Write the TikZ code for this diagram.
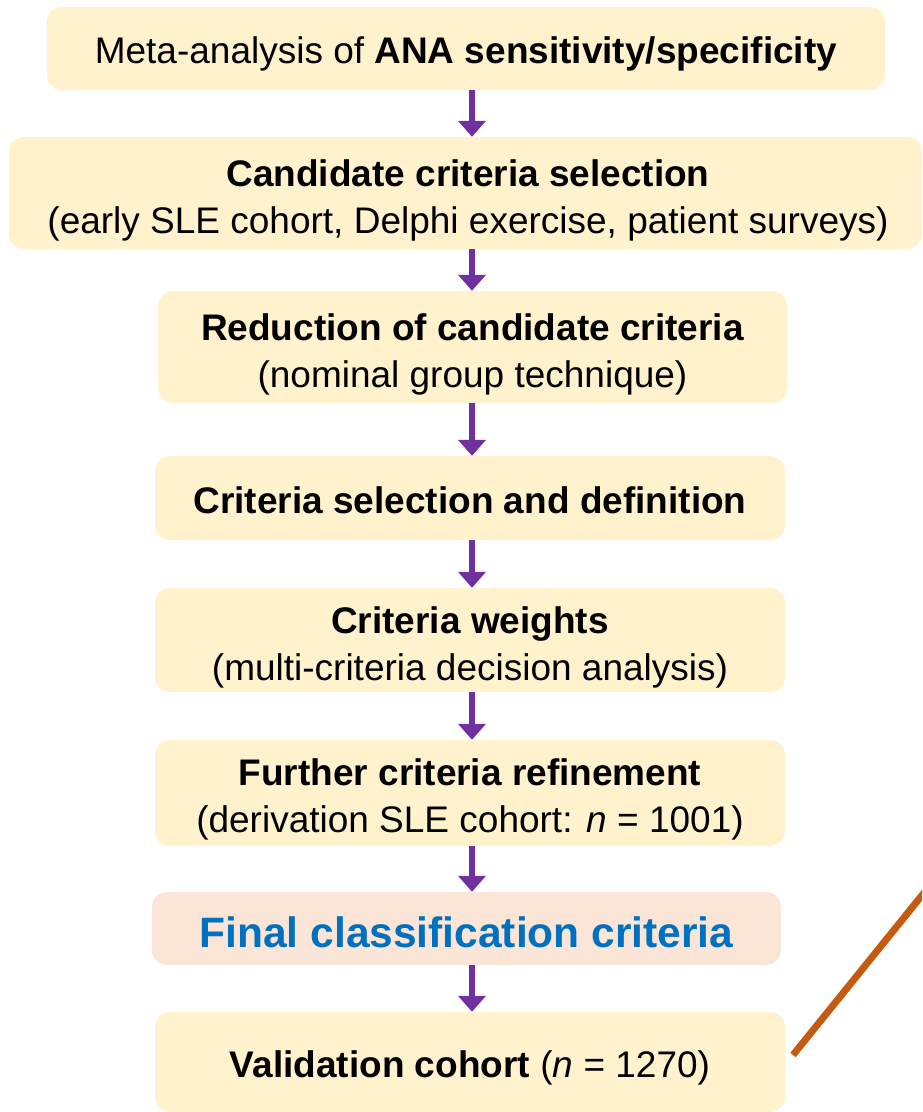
\documentclass[tikz,border=0pt]{standalone}
\usepackage{fontspec}
\setmainfont{Liberation Sans}
\usetikzlibrary{arrows.meta,calc}
\definecolor{boxfill}{HTML}{FFF2CC}
\definecolor{finalfill}{HTML}{FBE5D6}
\definecolor{finaltext}{HTML}{0070C0}
\definecolor{arrowpurple}{HTML}{7030A0}
\definecolor{lineorange}{HTML}{C55A11}
\tikzset{
  stepbox/.style={fill=boxfill, draw=none, rounded corners=15pt, inner sep=0pt},
  finalbox/.style={stepbox, fill=finalfill},
  steptext/.style={align=center, inner sep=0pt, font=\fontsize{37}{47}\selectfont},
  finaltxt/.style={steptext, text=finaltext, font=\fontsize{42.5}{50}\selectfont\bfseries},
  flowarrow/.style={draw=arrowpurple, line width=6pt, -{Triangle[width=27pt,length=16pt]}},
  orangeline/.style={draw=lineorange, line width=7pt}
}
\begin{document}
\begin{tikzpicture}[x=1pt,y=1pt]
\useasboundingbox (0,0) rectangle (922,-1112);
\clip (0,0) rectangle (922,-1112);
\node[stepbox, minimum width=838pt, minimum height=83pt] (b1) at (466,-48.5) {};
\node[steptext] (t1) at (466,-53.5)
  {Meta-analysis of \textbf{ANA sensitivity/specificity}};
\node[stepbox, minimum width=913pt, minimum height=112pt] (b2) at (465.5,-193) {};
\node[steptext] (t2) at (468,-200.5)
  {\textbf{Candidate criteria selection}\\(early SLE cohort, Delphi exercise, patient surveys)};
\node[stepbox, minimum width=629pt, minimum height=112pt] (b3) at (472.5,-347) {};
\node[steptext] (t3) at (472.5,-354)
  {\textbf{Reduction of candidate criteria}\\(nominal group technique)};
\node[stepbox, minimum width=630pt, minimum height=84pt] (b4) at (470,-498) {};
\node[steptext] (t4) at (470,-500.5)
  {\textbf{Criteria selection and definition}};
\node[stepbox, minimum width=630pt, minimum height=104pt] (b5) at (470,-640) {};
\node[steptext] (t5) at (470,-647)
  {\textbf{Criteria weights}\\(multi-criteria decision analysis)};
\node[stepbox, minimum width=630pt, minimum height=106pt] (b6) at (470,-793) {};
\node[steptext] (t6) at (470,-799.5)
  {\textbf{Further criteria refinement}\\(derivation SLE cohort: \textit{n} = 1001)};
\node[finalbox, minimum width=629pt, minimum height=73pt] (b7) at (466.5,-928.5) {};
\node[finaltxt] (t7) at (466.5,-932.5)
  {Final classification criteria};
\node[stepbox, minimum width=630pt, minimum height=100pt] (b8) at (470,-1062) {};
\node[steptext] (t8) at (470,-1067.5)
  {\textbf{Validation cohort} (\textit{n} = 1270)};
\coordinate (ax) at (472,0);
\draw[flowarrow] (b1.south -| ax) -- (b2.north -| ax);
\draw[flowarrow] (b2.south -| ax) -- (b3.north -| ax);
\draw[flowarrow] (b3.south -| ax) -- (b4.north -| ax);
\draw[flowarrow] (b4.south -| ax) -- (b5.north -| ax);
\draw[flowarrow] (b5.south -| ax) -- (b6.north -| ax);
\draw[flowarrow] (b6.south -| ax) -- (b7.north -| ax);
\draw[flowarrow] (b7.south -| ax) -- (b8.north -| ax);
\coordinate (o1) at (793,-1055);
\coordinate (o2) at (940,-873);
\draw[orangeline] (o1) -- (o2);
\end{tikzpicture}
\end{document}
